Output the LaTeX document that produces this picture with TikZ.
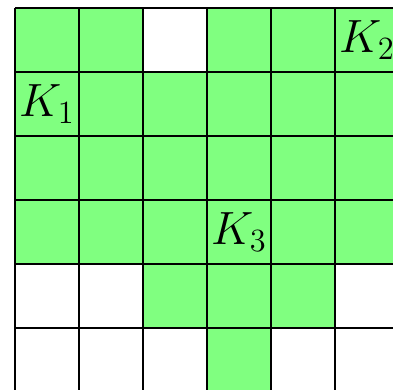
\documentclass[tikz,border=0pt]{standalone}
\begin{document}
\begin{tikzpicture}[cell/.style={fill=green!50}, lab/.style={font=\fontsize{20}{24}\selectfont}]
\useasboundingbox (-0.234,0.047) rectangle (5.906,6.125);
\clip (-0.234,0.047) rectangle (5.906,6.125);
% Filled cells
\foreach \x in {0,1,3,4,5} \fill[cell] (\x,5) rectangle ++(1,1);
\foreach \y in {2,3,4} \foreach \x in {0,...,5} \fill[cell] (\x,\y) rectangle ++(1,1);
\foreach \x in {2,3,4} \fill[cell] (\x,1) rectangle ++(1,1);
\fill[cell] (3,0) rectangle ++(1,1);

% Grid
\draw[line width=0.7pt] (0,-1) grid (7,6);

% Labels
\node[lab] (K1) at (0.5,4.5) {$K_1$};
\node[lab] (K2) at (5.5,5.5) {$K_2$};
\node[lab] (K3) at (3.5,2.5) {$K_3$};
\end{tikzpicture}
\end{document}
